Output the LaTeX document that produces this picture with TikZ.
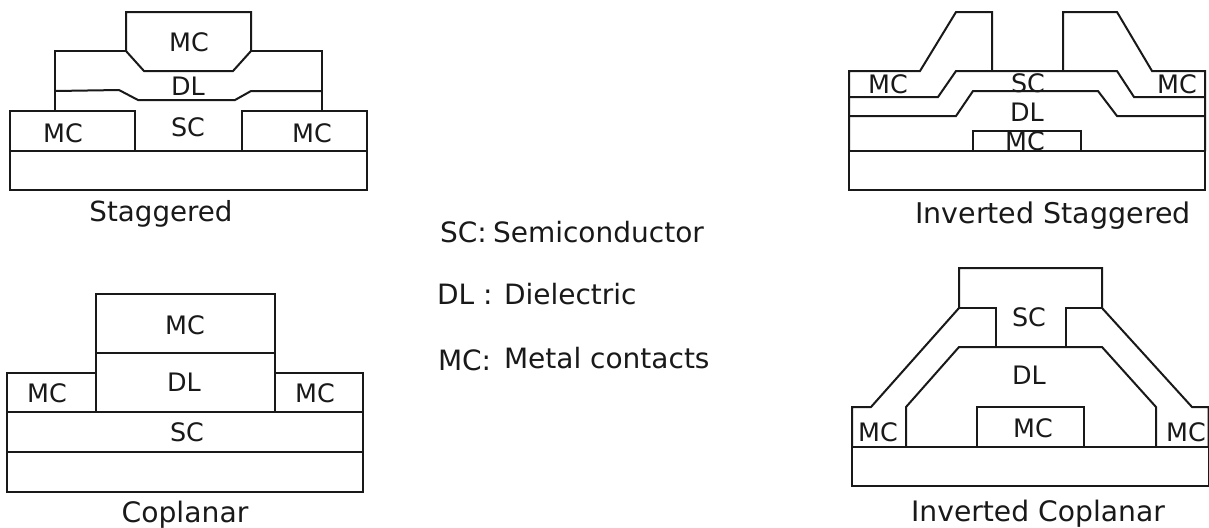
\documentclass[tikz,border=0pt]{standalone}
\usepackage{fontspec}
\setmainfont{DejaVu Sans}
\tikzset{
  layer/.style={draw=black!90,line width=1pt,line join=miter},
  lab/.style={inner sep=0pt,outer sep=0pt,text=black!90,font=\fontsize{12.7}{14}\selectfont},
  capt/.style={inner sep=0pt,outer sep=0pt,anchor=base,text=black!90,font=\fontsize{14.1}{16}\selectfont},
  leg/.style={inner sep=0pt,outer sep=0pt,text=black!90,anchor=base west,font=\fontsize{14}{16}\selectfont}
}
\begin{document}
\begin{tikzpicture}[x=0.5pt,y=-0.5pt]
\useasboundingbox (0,0) rectangle (1209,527);
% Staggered
\draw[layer] (10,151) rectangle (367,190);
\draw[layer] (10,151) -- (10,111) -- (135,111) -- (135,151);
\draw[layer] (242,151) -- (242,111) -- (367,111) -- (367,151);
\draw[layer] (55,110) -- (55,51) -- (126,51);
\draw[layer] (251,51) -- (322,51) -- (322,110);
\draw[layer] (126,51) -- (126,12) -- (251,12) -- (251,51) -- (233,71) -- (144,71) -- cycle;
\draw[layer] (55,91) -- (119,90) -- (138,100) -- (235,100) -- (251,91) -- (322,91);
\node[lab] (s1) at (189,42) {MC};
\node[lab] (s2) at (188,86) {DL};
\node[lab] (s3) at (188,127) {SC};
\node[lab] (s4) at (63,133) {MC};
\node[lab] (s5) at (312,133) {MC};
\node[capt,font=\fontsize{13.85}{16}\selectfont] (s6) at (161,221) {Staggered};
% Inverted Staggered
\draw[layer] (849,151) rectangle (1205,190);
\draw[layer] (849,151) -- (849,71) -- (920,71) -- (956,12) -- (992,12) -- (992,71);
\draw[layer] (1063,71) -- (1063,12) -- (1117,12) -- (1152,71) -- (1205,71) -- (1205,151);
\draw[layer] (849,97) -- (938,97) -- (956,71) -- (1117,71) -- (1134,97) -- (1205,97);
\draw[layer] (849,116) -- (956,116) -- (973,91) -- (1098,91) -- (1117,116) -- (1205,116);
\draw[layer] (973,151) -- (973,131) -- (1081,131) -- (1081,151);
\node[lab] (i1) at (888,84) {MC};
\node[lab] (i2) at (1028,83) {SC};
\node[lab] (i3) at (1177,84) {MC};
\node[lab] (i4) at (1027,112) {DL};
\node[lab] (i5) at (1025,141) {MC};
\node[capt,font=\fontsize{14.25}{16}\selectfont] (i6) at (1053,223) {Inverted Staggered};
% Coplanar
\draw[layer] (7,373) rectangle (363,492);
\draw[layer] (7,412) -- (363,412);
\draw[layer] (7,452) -- (363,452);
\draw[layer,fill=white] (96,294) rectangle (275,412);
\draw[layer] (96,353) -- (275,353);
\node[lab] (c1) at (185,325) {MC};
\node[lab] (c2) at (184,382) {DL};
\node[lab] (c3) at (47,393) {MC};
\node[lab] (c4) at (315,393) {MC};
\node[lab] (c5) at (187,432) {SC};
\node[capt] (c6) at (185,522) {Coplanar};
% Inverted Coplanar
\draw[layer] (852,447) rectangle (1208.5,486);
\draw[layer] (852,447) -- (852,407) -- (871,407) -- (959,308) -- (959,268) -- (1102,268) -- (1102,308) -- (1192,407) -- (1208.5,407) -- (1208.5,447);
\draw[layer] (959,308) -- (996,308) -- (996,347);
\draw[layer] (1102,308) -- (1066,308) -- (1066,347);
\draw[layer] (906,447) -- (906,407) -- (959,347) -- (1102,347) -- (1156,407) -- (1156,447);
\draw[layer] (977,447) -- (977,407) -- (1084,407) -- (1084,447);
\node[lab] (p1) at (1029,317) {SC};
\node[lab] (p2) at (1029,375) {DL};
\node[lab] (p3) at (878,432) {MC};
\node[lab] (p4) at (1033,428) {MC};
\node[lab] (p5) at (1186,432) {MC};
\node[capt] (p6) at (1038,521) {Inverted Coplanar};
% Legend
\node[leg] (l1) at (440,242) {SC:};
\node[leg] (l2) at (493,242) {Semiconductor};
\node[leg] (l3) at (437,304) {DL :};
\node[leg] (l4) at (504,304) {Dielectric};
\node[leg] (l5) at (438,370) {MC:};
\node[leg] (l6) at (504,368) {Metal contacts};
\end{tikzpicture}
\end{document}
